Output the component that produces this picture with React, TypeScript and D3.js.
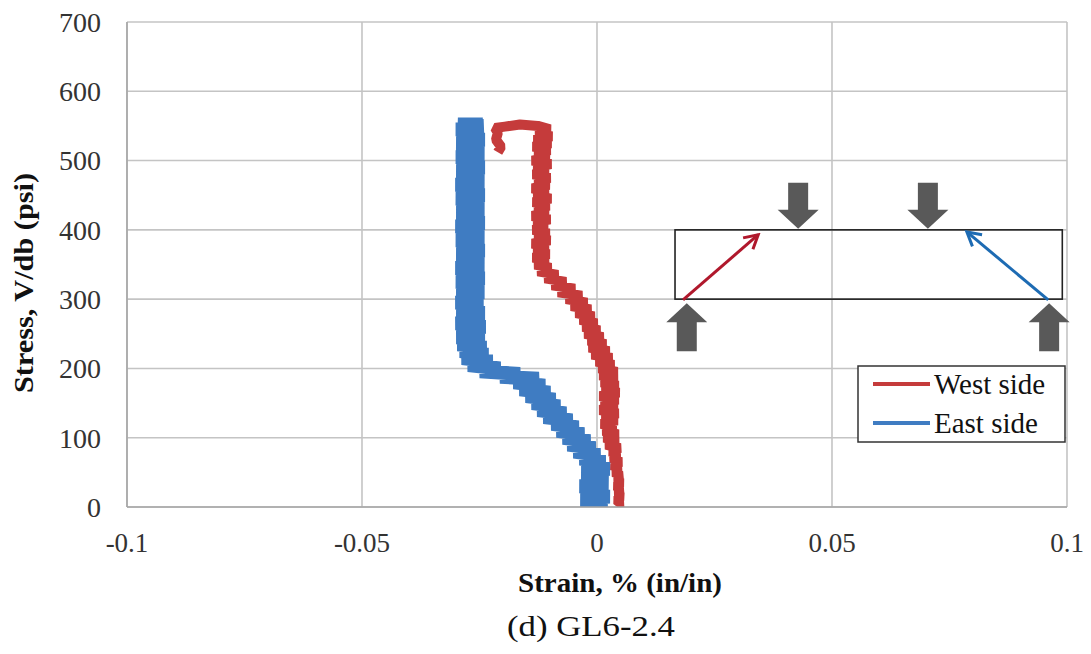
import React from "react";
import * as d3 from "d3";

const xTicks = [-0.1, -0.05, 0, 0.05, 0.1];
const xTickLabels = ["-0.1", "-0.05", "0", "0.05", "0.1"];
const yTicks = [0, 100, 200, 300, 400, 500, 600, 700];

const seriesNames = ["West side", "East side"];
const seriesColors = ["#c53b3b", "#3f7cc2"];

// West side (red) – read along the scatter band, stress (psi) / strain (%)
const westStress = [
  0, 5, 10, 15, 20, 25, 30, 35, 40, 45, 50, 55, 60, 65, 70, 75, 80, 85, 90, 95,
  100, 105, 110, 115, 120, 125, 130, 135, 140, 145, 150, 155, 160, 165, 170, 175, 180, 185, 190, 195,
  200, 205, 210, 215, 220, 225, 230, 235, 240, 245, 250, 255, 260, 265, 270, 275, 280, 285, 290, 295,
  300, 305, 310, 315, 320, 325, 330, 335, 340, 345, 350, 355, 360, 365, 370, 375, 380, 385, 390, 395,
  400, 405, 410, 415, 420, 425, 430, 435, 440, 445, 450, 455, 460, 465, 470, 475, 480, 485, 490, 495,
  500, 505, 510, 515, 520, 525, 530, 535, 540, 545, 550, 552, 549, 547, 540, 530, 520, 512,
];
const westStrain = [
  0.0043, 0.0051, 0.0041, 0.0052, 0.0043, 0.0051, 0.004, 0.0052, 0.0041, 0.0051, 0.0036, 0.0049, 0.0032, 0.0051, 0.003, 0.0047, 0.0028, 0.0049, 0.0019, 0.0045,
  0.0015, 0.0045, 0.0013, 0.004, 0.0009, 0.0043, 0.0011, 0.0045, 0.0006, 0.0043, 0.0009, 0.0045, 0.0006, 0.0047, 0.0011, 0.0045, 0.0009, 0.0043, 0.0006, 0.0043,
  0.0004, 0.0036, -0.0002, 0.0032, -0.0011, 0.0026, -0.0017, 0.0019, -0.0019, 0.0013, -0.0026, 0.0006, -0.003, 0.0, -0.0036, -0.0006, -0.0045, -0.0013, -0.0055, -0.0021,
  -0.0066, -0.0032, -0.0083, -0.0047, -0.0096, -0.0066, -0.0111, -0.0083, -0.0126, -0.0098, -0.0132, -0.0104, -0.0136, -0.0102, -0.0134, -0.0104, -0.0138, -0.01, -0.0132, -0.0102,
  -0.0136, -0.0106, -0.0134, -0.01, -0.0138, -0.0104, -0.0132, -0.0102, -0.0136, -0.0098, -0.0134, -0.0104, -0.0138, -0.0102, -0.0132, -0.01, -0.0136, -0.0104, -0.0134, -0.0098,
  -0.0138, -0.0102, -0.0132, -0.01, -0.0136, -0.0098, -0.0134, -0.0096, -0.013, -0.01, -0.0126, -0.0164, -0.0196, -0.0217, -0.0211, -0.0215, -0.0204, -0.0211,
];

// East side (blue)
const eastStress = [
  0, 5, 10, 15, 20, 25, 30, 35, 40, 45, 50, 55, 60, 65, 70, 75, 80, 85, 90, 95,
  100, 105, 110, 115, 120, 125, 130, 135, 140, 145, 150, 155, 160, 165, 170, 175, 180, 185, 188, 192,
  196, 200, 205, 210, 215, 220, 225, 230, 235, 240, 245, 250, 255, 260, 265, 270, 275, 280, 285, 290,
  295, 300, 305, 310, 315, 320, 325, 330, 335, 340, 345, 350, 355, 360, 365, 370, 375, 380, 385, 390,
  395, 400, 405, 410, 415, 420, 425, 430, 435, 440, 445, 450, 455, 460, 465, 470, 475, 480, 485, 490,
  495, 500, 505, 510, 515, 520, 525, 530, 535, 540, 545, 550, 552, 552,
];
const eastStrain = [
  -0.003, 0.0021, -0.0034, 0.0026, -0.0028, 0.0019, -0.0036, 0.0023, -0.0026, 0.0021, -0.0032, 0.0026, -0.0028, 0.0017, -0.0036, 0.0006, -0.0049, -0.0004, -0.0062, -0.0015,
  -0.0072, -0.0028, -0.0085, -0.004, -0.0096, -0.0053, -0.0113, -0.0066, -0.0126, -0.0079, -0.0138, -0.0089, -0.0151, -0.01, -0.0164, -0.0111, -0.0177, -0.0124, -0.0206, -0.0164,
  -0.0249, -0.0206, -0.0274, -0.0223, -0.0287, -0.0232, -0.0291, -0.0236, -0.0296, -0.024, -0.0298, -0.0243, -0.0296, -0.0238, -0.03, -0.0245, -0.0298, -0.024, -0.0296, -0.0243,
  -0.03, -0.0245, -0.0298, -0.0241, -0.0296, -0.0244, -0.0299, -0.024, -0.0297, -0.0243, -0.03, -0.0241, -0.0296, -0.0245, -0.0298, -0.024, -0.0297, -0.0243, -0.0299, -0.0241,
  -0.0296, -0.0244, -0.03, -0.024, -0.0297, -0.0243, -0.0298, -0.0241, -0.0296, -0.0245, -0.0299, -0.024, -0.0297, -0.0243, -0.03, -0.0241, -0.0296, -0.0244, -0.0298, -0.024,
  -0.0297, -0.0243, -0.0299, -0.0241, -0.0296, -0.0245, -0.0298, -0.024, -0.0297, -0.0243, -0.0299, -0.0242, -0.0296, -0.0243,
];

// Inset annotation (data units)
const insetBox = { x0: 0.0166, x1: 0.099, y0: 300, y1: 400 };
const downArrowX = [0.0428, 0.0704];
const upArrowX = [0.0191, 0.0962];
const westArrow = { x0: 0.0183, y0: 299, x1: 0.0343, y1: 393 };
const eastArrow = { x0: 0.096, y0: 299, x1: 0.0787, y1: 397 };

const W = 1091;
const H = 654;
const plot = { left: 127, right: 1067, top: 22, bottom: 507 };
const serif = { fontFamily: "'Liberation Serif', serif" };

export default function App() {
  const x = d3.scaleLinear().domain([-0.1, 0.1]).range([plot.left, plot.right]);
  const y = d3.scaleLinear().domain([0, 700]).range([plot.bottom, plot.top]);
  const line = d3
    .line<[number, number]>()
    .x((d) => x(d[0]))
    .y((d) => y(d[1]));

  const westPts: [number, number][] = westStress.map((s, i) => [westStrain[i], s]);
  const eastPts: [number, number][] = eastStress.map((s, i) => [eastStrain[i], s]);

  const arrowGray = "#595959";
  const downArrow = (cx: number, tipY: number, k: number) => (
    <path
      key={"d" + k}
      d={`M${cx - 10},${tipY - 46} L${cx + 10},${tipY - 46} L${cx + 10},${tipY - 19} L${cx + 20.5},${tipY - 19} L${cx},${tipY} L${cx - 20.5},${tipY - 19} L${cx - 10},${tipY - 19} Z`}
      fill={arrowGray}
    />
  );
  const upArrow = (cx: number, tipY: number, k: number) => (
    <path
      key={"u" + k}
      d={`M${cx - 10},${tipY + 48} L${cx + 10},${tipY + 48} L${cx + 10},${tipY + 19} L${cx + 20.5},${tipY + 19} L${cx},${tipY} L${cx - 20.5},${tipY + 19} L${cx - 10},${tipY + 19} Z`}
      fill={arrowGray}
    />
  );

  return (
    <svg width={W} height={H} style={{ position: "absolute", left: 0, top: 0, background: "#fff" }}>
      <defs>
        <marker id="headRed" viewBox="0 0 12 12" refX="10" refY="6" markerWidth="6" markerHeight="6" orient="auto" markerUnits="strokeWidth">
          <path d="M1,1 L10,6 L1,11" fill="none" stroke="#b0182c" strokeWidth="2" />
        </marker>
        <marker id="headBlue" viewBox="0 0 12 12" refX="10" refY="6" markerWidth="6" markerHeight="6" orient="auto" markerUnits="strokeWidth">
          <path d="M1,1 L10,6 L1,11" fill="none" stroke="#1d6bb3" strokeWidth="2" />
        </marker>
        <clipPath id="plotClip">
          <rect x={plot.left} y={plot.top} width={plot.right - plot.left} height={plot.bottom - plot.top} />
        </clipPath>
      </defs>
      <rect x={0} y={0} width={W} height={H} fill="#fff" />

      {yTicks.map((t) => (
        <line key={"gy" + t} x1={plot.left} x2={plot.right} y1={y(t)} y2={y(t)} stroke="#c4c4c4" strokeWidth={1.6} />
      ))}
      {xTicks.map((t) => (
        <line key={"gx" + t} x1={x(t)} x2={x(t)} y1={plot.top} y2={plot.bottom} stroke="#c4c4c4" strokeWidth={1.6} />
      ))}
      <line x1={plot.left} x2={plot.left} y1={plot.top} y2={plot.bottom} stroke="#a6a6a6" strokeWidth={1.6} />

      {yTicks.map((t) => (
        <text key={"ty" + t} x={101} y={y(t)} dy="0.35em" textAnchor="end" fontSize={28} fill="#333" style={serif}>
          {t}
        </text>
      ))}
      {xTicks.map((t, i) => (
        <text key={"tx" + t} x={x(t)} y={552} textAnchor="middle" fontSize={27} fill="#333" style={serif}>
          {xTickLabels[i]}
        </text>
      ))}

      <g clipPath="url(#plotClip)">
        <path d={line(westPts) || ""} fill="none" stroke={seriesColors[0]} strokeWidth={10} strokeLinejoin="bevel" strokeLinecap="butt" />
        <path d={line(eastPts) || ""} fill="none" stroke={seriesColors[1]} strokeWidth={14} strokeLinejoin="bevel" strokeLinecap="butt" />
      </g>
      <line x1={plot.left} x2={plot.right} y1={plot.bottom} y2={plot.bottom} stroke="#a6a6a6" strokeWidth={1.6} />

      <rect
        x={x(insetBox.x0)}
        y={y(insetBox.y1)}
        width={x(insetBox.x1) - x(insetBox.x0)}
        height={y(insetBox.y0) - y(insetBox.y1)}
        fill="none"
        stroke="#222"
        strokeWidth={1.6}
      />
      {downArrowX.map((v, i) => downArrow(x(v), y(insetBox.y1) - 1, i))}
      {upArrowX.map((v, i) => upArrow(x(v), y(insetBox.y0) + 4, i))}
      <line x1={x(westArrow.x0)} y1={y(westArrow.y0)} x2={x(westArrow.x1)} y2={y(westArrow.y1)} stroke="#b0182c" strokeWidth={3} markerEnd="url(#headRed)" />
      <line x1={x(eastArrow.x0)} y1={y(eastArrow.y0)} x2={x(eastArrow.x1)} y2={y(eastArrow.y1)} stroke="#1d6bb3" strokeWidth={3} markerEnd="url(#headBlue)" />

      <rect x={858} y={366} width={207} height={76} fill="#fff" stroke="#333" strokeWidth={1.5} />
      {seriesNames.map((n, i) => (
        <g key={n}>
          <line x1={873} x2={930} y1={384 + i * 39} y2={384 + i * 39} stroke={seriesColors[i]} strokeWidth={4} />
          <text x={934} y={394 + i * 39} fontSize={29} fill="#111" style={serif}>
            {n}
          </text>
        </g>
      ))}

      <text x={620} y={592} textAnchor="middle" fontSize={28} fontWeight="bold" fill="#111" style={serif} textLength={204} lengthAdjust="spacingAndGlyphs">
        Strain, % (in/in)
      </text>
      <text x={591} y={636} textAnchor="middle" fontSize={30} fill="#111" style={serif} textLength={168} lengthAdjust="spacingAndGlyphs">
        (d) GL6-2.4
      </text>
      <text
        transform="translate(33,283) rotate(-90)"
        textAnchor="middle"
        fontSize={28}
        fontWeight="bold"
        fill="#111"
        style={serif}
        textLength={220}
        lengthAdjust="spacingAndGlyphs"
      >
        Stress, V/db (psi)
      </text>
    </svg>
  );
}
